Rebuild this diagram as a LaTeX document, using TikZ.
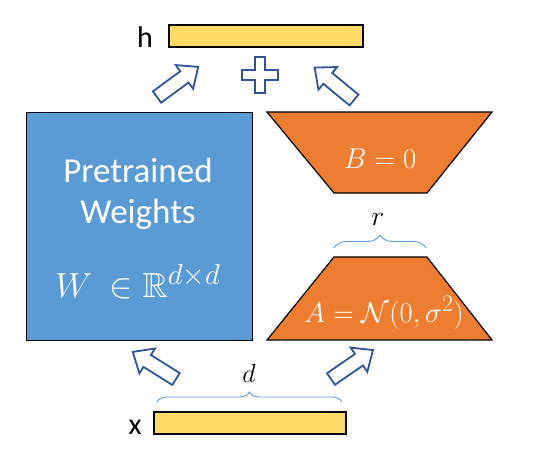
\documentclass[tikz,border=0pt]{standalone}
\usepackage{amssymb}
\usepackage{fontspec}
\setmainfont{Carlito}
\usetikzlibrary{decorations.pathreplacing}
\definecolor{wblue}{HTML}{5B9BD5}
\definecolor{borange}{HTML}{ED7D31}
\definecolor{byellow}{HTML}{FFD966}
\definecolor{adark}{HTML}{2F5597}
\definecolor{bracecol}{HTML}{5B9BD5}
\tikzset{
  arrowline/.style={draw=adark, line width=1.8pt, fill=white, line join=miter},
  blockarrow/.pic={\draw[arrowline] (0,-7) -- (34,-7) -- (34,-14.7) -- (51,0) -- (34,14.7) -- (34,7) -- (0,7) -- cycle;},
  bar/.style={draw=black, line width=1.2pt, fill=byellow},
  shapeline/.style={draw=black, line width=1.2pt},
  bracestyle/.style={draw=bracecol, line width=0.9pt, decorate},
  lbl/.style={font=\fontsize{30}{36}\selectfont, inner sep=0pt, anchor=base},
  wtext/.style={text=white, inner sep=0pt, anchor=base},
  mathtxt/.style={inner sep=0pt, anchor=base, font=\Huge, transform shape, scale=#1},
}
\begin{document}
\begin{tikzpicture}[x=1pt,y=-1pt]
\useasboundingbox (0,0) rectangle (534,459);
% bars
\draw[bar] (169,25) rectangle (363,47);
\node[lbl] (h) at (145,47) {h};
\draw[bar] (154,412) rectangle (346,434);
\node[lbl] (x) at (135,434) {x};
% pretrained weights
\node[shapeline, fill=wblue, minimum width=226pt, minimum height=228pt, inner sep=0pt, anchor=north west] (W) at (26,112) {};
\node[wtext, font=\fontsize{35}{42}\selectfont] (pt1) at (138,182) {Pretrained};
\node[wtext, font=\fontsize{35}{42}\selectfont] (pt2) at (138,223) {Weights};
\node[mathtxt=1.4, text=white] (pt3) at (138,297) {$W\ \in\mathbb{R}^{d\times d}$};
% B trapezoid
\draw[shapeline, fill=borange] (267,112) -- (492,112) -- (427,193) -- (334,193) -- cycle;
\node[mathtxt=1.15, text=white] (B) at (380,168) {$B=0$};
% A trapezoid
\draw[shapeline, fill=borange] (334,257) -- (427,257) -- (492,340) -- (267,340) -- cycle;
\node[mathtxt=1.15, text=white] (A) at (384,322) {$A=\mathcal{N}(0,\sigma^2)$};
% braces
\draw[bracestyle, decoration={brace, amplitude=13pt}] (334,248) -- (426,248);
\node[mathtxt=1.12] (r) at (378,225) {$r$};
\draw[bracestyle, decoration={brace, amplitude=10pt}] (157,402) -- (342,402);
\node[mathtxt=1.05] (d) at (249,382) {$d$};
% plus
\draw[arrowline] (255,57) -- (265,57) -- (265,70) -- (278,70) -- (278,80) -- (265,80) -- (265,93) -- (255,93) -- (255,80) -- (242,80) -- (242,70) -- (255,70) -- cycle;
% arrows
\pic[rotate=36.2] at (157,97) {blockarrow};
\pic[rotate=140.5] at (354,100) {blockarrow};
\pic[rotate=147.9] at (176,379) {blockarrow};
\pic[rotate=34.6] at (331,379) {blockarrow};
\end{tikzpicture}
\end{document}
